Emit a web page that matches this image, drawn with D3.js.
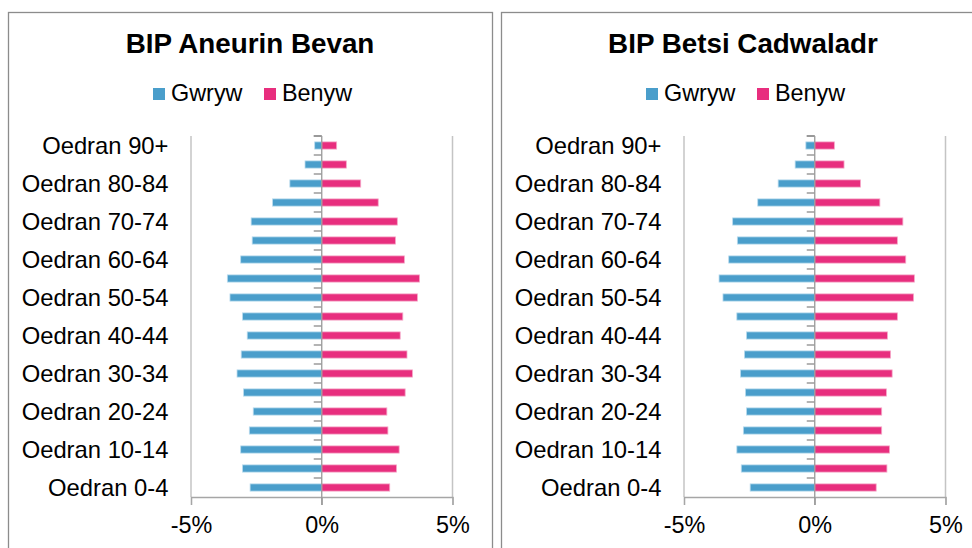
<!DOCTYPE html>
<html>
<head>
  <meta charset="utf-8" />
  <title>BIP population pyramids</title>
  <script src="https://cdnjs.cloudflare.com/ajax/libs/d3/7.8.5/d3.min.js"></script>
  <style>
    body { margin: 0; background: #fff; }
    svg { display: block; font-family: "Liberation Sans", Arial, sans-serif; }
  </style>
</head>
<body>
  <div id="chart"></div>
  <script>
    // age bands, youngest first (drawn bottom to top)
    var ageGroups = ["Oedran 0-4", "Oedran 5-9", "Oedran 10-14", "Oedran 15-19", "Oedran 20-24",
      "Oedran 25-29", "Oedran 30-34", "Oedran 35-39", "Oedran 40-44", "Oedran 45-49",
      "Oedran 50-54", "Oedran 55-59", "Oedran 60-64", "Oedran 65-69", "Oedran 70-74",
      "Oedran 75-79", "Oedran 80-84", "Oedran 85-89", "Oedran 90+"];

    var regions = ["BIP Aneurin Bevan", "BIP Betsi Cadwaladr"];
    var seriesNames = ["Gwryw", "Benyw"];
    var seriesColors = ["#4a9ecb", "#e82e7e"];

    // % of population
    var aneurinMale = [2.74, 3.03, 3.10, 2.77, 2.62, 2.99, 3.24, 3.08, 2.85, 3.03,
      3.51, 3.61, 3.10, 2.66, 2.70, 1.88, 1.22, 0.64, 0.27];
    var aneurinFemale = [2.60, 2.86, 2.96, 2.53, 2.49, 3.19, 3.47, 3.26, 3.00, 3.10,
      3.66, 3.74, 3.16, 2.82, 2.89, 2.16, 1.49, 0.94, 0.57];
    var betsiMale = [2.47, 2.81, 2.98, 2.73, 2.61, 2.65, 2.84, 2.69, 2.61, 2.98,
      3.51, 3.66, 3.29, 2.96, 3.14, 2.18, 1.40, 0.75, 0.34];
    var betsiFemale = [2.35, 2.76, 2.86, 2.56, 2.56, 2.74, 2.96, 2.90, 2.78, 3.16,
      3.78, 3.81, 3.48, 3.16, 3.37, 2.49, 1.75, 1.12, 0.75];

    var xTicks = [-5, 0, 5];

    var width = 972, height = 548;
    var panelW = 484;

    var svg = d3.select("#chart")
      .append("svg")
      .attr("width", width)
      .attr("height", height);

    svg.append("rect")
      .attr("width", width)
      .attr("height", height)
      .attr("fill", "#fff");

    function drawPanel(left, title, male, female) {
      var g = svg.append("g").attr("transform", "translate(" + left + ",0)");

      g.append("rect")
        .attr("x", 0.5).attr("y", 12.5)
        .attr("width", panelW).attr("height", 560)
        .attr("fill", "#fff")
        .attr("stroke", "#8c8c8c")
        .attr("stroke-width", 1.3);

      var cx = panelW / 2;

      g.append("text")
        .attr("x", cx).attr("y", 53)
        .attr("text-anchor", "middle")
        .attr("font-size", 27.8)
        .attr("font-weight", "bold")
        .attr("fill", "#000")
        .text(title);

      // legend
      var legendX = [cx - 97, cx + 14];
      seriesNames.forEach(function(name, i) {
        g.append("rect")
          .attr("x", legendX[i]).attr("y", 88)
          .attr("width", 12).attr("height", 12)
          .attr("fill", seriesColors[i]);
        g.append("text")
          .attr("x", legendX[i] + 18).attr("y", 101)
          .attr("font-size", 23.4)
          .attr("fill", "#000")
          .text(name);
      });

      var x = d3.scaleLinear().domain([-5, 5]).range([183, 444.5]);
      var y = d3.scaleBand()
        .domain(ageGroups.slice().reverse())
        .range([136, 497]);
      var barH = y.bandwidth() * 0.38;

      // vertical gridlines at -5% and 5%
      g.selectAll(".grid")
        .data(xTicks.filter(function(d) { return d !== 0; }))
        .enter().append("line")
        .attr("x1", function(d) { return x(d); })
        .attr("x2", function(d) { return x(d); })
        .attr("y1", 136).attr("y2", 497)
        .attr("stroke", "#c4c4c4")
        .attr("stroke-width", 1.5);

      // bottom axis
      var xAxis = g.append("g")
        .attr("transform", "translate(0,497)")
        .call(d3.axisBottom(x).tickValues(xTicks).tickSize(8).tickFormat(function(d) { return d + "%"; }));
      xAxis.select(".domain").attr("stroke", "#a6a6a6").attr("stroke-width", 1.3);
      xAxis.selectAll(".tick line").attr("stroke", "#a6a6a6").attr("stroke-width", 1.3);
      xAxis.selectAll(".tick text")
        .attr("font-size", 23.4)
        .attr("font-family", "Liberation Sans, Arial, sans-serif")
        .attr("fill", "#000")
        .attr("dy", null)
        .attr("y", 36);

      // bars
      g.selectAll(".male")
        .data(male)
        .enter().append("rect")
        .attr("x", function(d) { return x(-d); })
        .attr("y", function(d, i) { return y(ageGroups[i]) + (y.bandwidth() - barH) / 2; })
        .attr("width", function(d) { return x(0) - x(-d); })
        .attr("height", barH)
        .attr("fill", seriesColors[0])
        .attr("stroke", "#b9dbee")
        .attr("stroke-width", 0.8);

      g.selectAll(".female")
        .data(female)
        .enter().append("rect")
        .attr("x", x(0))
        .attr("y", function(d, i) { return y(ageGroups[i]) + (y.bandwidth() - barH) / 2; })
        .attr("width", function(d) { return x(d) - x(0); })
        .attr("height", barH)
        .attr("fill", seriesColors[1])
        .attr("stroke", "#f5a9c9")
        .attr("stroke-width", 0.8);

      // category axis on zero line, ticks at band edges
      var edges = ageGroups.map(function(a) { return y(a); }).concat([136]);
      g.selectAll(".cattick")
        .data(edges)
        .enter().append("line")
        .attr("x1", x(0) - 8).attr("x2", x(0))
        .attr("y1", function(d) { return d; })
        .attr("y2", function(d) { return d; })
        .attr("stroke", "#8c8c8c")
        .attr("stroke-width", 1.3);

      g.append("line")
        .attr("x1", x(0)).attr("x2", x(0))
        .attr("y1", 136).attr("y2", 505)
        .attr("stroke", "#999")
        .attr("stroke-width", 1.3);

      // every second category label
      g.selectAll(".catlabel")
        .data(ageGroups.filter(function(d, i) { return i % 2 === 0; }))
        .enter().append("text")
        .attr("x", 160.5)
        .attr("y", function(d) { return y(d) + y.bandwidth() / 2 + 8; })
        .attr("text-anchor", "end")
        .attr("font-size", 23.8)
        .attr("fill", "#000")
        .text(function(d) { return d; });
    }

    drawPanel(8, regions[0], aneurinMale, aneurinFemale);
    drawPanel(501, regions[1], betsiMale, betsiFemale);
  </script>
</body>
</html>
